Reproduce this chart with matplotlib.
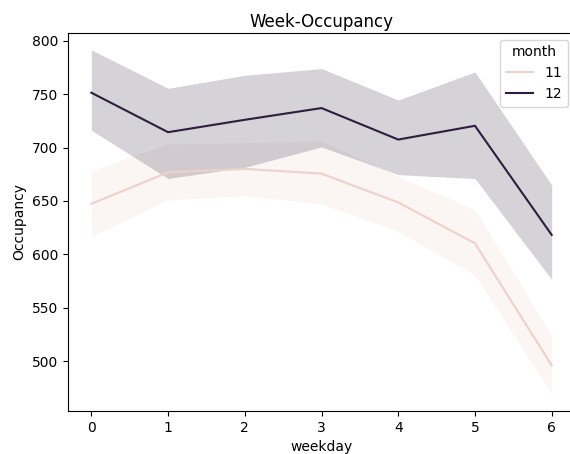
import matplotlib
matplotlib.use("Agg")
import matplotlib.pyplot as plt
import seaborn as sns

# values (mean line and 95% CI band per month)
weekday = [0, 1, 2, 3, 4, 5, 6]
months = [11, 12]

occ_11 = [647.3, 676.8, 680.0, 675.6, 648.6, 610.3, 496.0]
lo_11 = [616.6, 651.0, 654.9, 647.3, 621.3, 580.6, 469.3]
hi_11 = [678.0, 703.4, 704.4, 706.0, 673.0, 641.7, 523.8]

occ_12 = [751.4, 714.4, 726.0, 737.0, 707.5, 720.4, 618.2]
lo_12 = [716.3, 671.0, 681.5, 700.6, 674.6, 671.0, 576.5]
hi_12 = [791.5, 755.5, 767.7, 774.0, 744.5, 770.8, 664.9]

series = {11: (occ_11, lo_11, hi_11), 12: (occ_12, lo_12, hi_12)}

cmap = sns.cubehelix_palette(as_cmap=True)

fig = plt.figure(figsize=(5.7, 4.54), dpi=100)
ax = fig.add_axes([68.3 / 570, 1 - 411 / 454, (574.7 - 68.3) / 570, (411 - 32.7) / 454])

for i, m in enumerate(months):
    occ, lo, hi = series[m]
    color = cmap(i / (len(months) - 1))
    ax.fill_between(weekday, lo, hi, color=color, alpha=0.2, linewidth=0)
    ax.plot(weekday, occ, color=color, lw=1.5, label=str(m))

ax.set_title("Week-Occupancy", fontsize=12, pad=4)
ax.set_xlabel("weekday")
ax.set_ylabel("Occupancy")
ax.set_yticks([500, 550, 600, 650, 700, 750, 800])
ax.legend(title="month", loc="upper right")

fig.savefig("out.png", dpi=100)
